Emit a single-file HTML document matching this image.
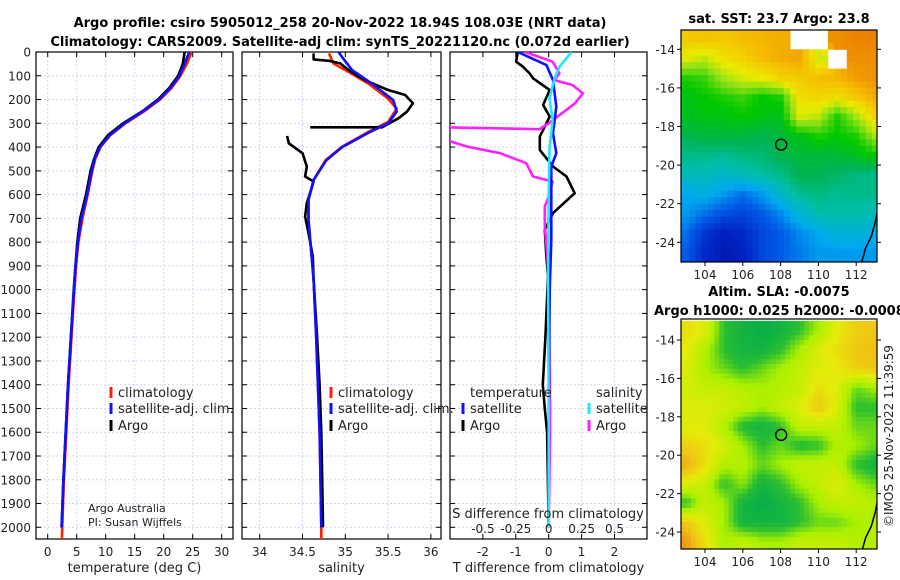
<!DOCTYPE html>
<html><head><meta charset="utf-8"><style>
html,body{margin:0;padding:0;background:#fff;}
svg{display:block;font-family:"DejaVu Sans","Liberation Sans",sans-serif;}
</style></head><body>
<svg id="fig" width="900" height="580" viewBox="0 0 900 580" xmlns="http://www.w3.org/2000/svg">
<defs>
<clipPath id="c1"><rect x="36" y="52" width="197" height="487"/></clipPath>
<clipPath id="c2"><rect x="242" y="52" width="199" height="487"/></clipPath>
<clipPath id="c3"><rect x="450" y="52" width="197" height="487"/></clipPath>
<clipPath id="cm1"><rect x="681" y="30" width="196" height="232"/></clipPath>
<clipPath id="cm2"><rect x="681" y="319" width="196" height="230"/></clipPath>
</defs>
<text x="340" y="27" text-anchor="middle" font-size="13" font-weight="bold">Argo profile: csiro 5905012_258 20-Nov-2022 18.94S 108.03E (NRT data)</text>
<text x="340" y="46" text-anchor="middle" font-size="13" font-weight="bold">Climatology: CARS2009. Satellite-adj clim: synTS_20221120.nc (0.072d earlier)</text>
<text x="779" y="23" text-anchor="middle" font-size="13" font-weight="bold">sat. SST: 23.7 Argo: 23.8</text>
<text x="779" y="296" text-anchor="middle" font-size="13" font-weight="bold">Altim. SLA: -0.0075</text>
<text x="654" y="315" font-size="13" font-weight="bold">Argo h1000: 0.025 h2000: -0.0008</text>
<text transform="translate(893,436) rotate(-90)" text-anchor="middle" font-size="12" fill="#222">©IMOS 25-Nov-2022 11:39:59</text>
<g id="layer"></g>
</svg>
<script>
// ---------- data ----------
const depthTicks = [0,100,200,300,400,500,600,700,800,900,1000,1100,1200,1300,1400,1500,1600,1700,1800,1900,2000];
const tTicks = [0,5,10,15,20,25,30];
const sTicks = [34,34.5,35,35.5,36];
const sTickLabels = ["34","34.5","35","35.5","36"];
const dTTicks = [-2,-1,0,1,2];
const dSTicks = [-0.5,-0.25,0,0.25,0.5];
const dSTickLabels = ["-0.5","-0.25","0","0.25","0.5"];

const tDepth = [0,50,100,150,200,250,300,350,400,450,500,600,700,800,900,1000,1200,1400,1600,1800,2000];
const tClimDepth = [0,50,100,150,200,250,300,350,400,450,500,600,700,800,900,1000,1200,1400,1600,1800,2000,2050];
const tClim = [24.8,24.0,22.9,21.4,19.4,16.6,13.4,10.8,9.1,8.2,7.7,6.9,6.0,5.3,4.9,4.6,4.1,3.6,3.2,2.8,2.5,2.45];
const tSat = [24.4,23.6,22.7,21.2,19.2,16.4,13.3,10.7,9.0,8.1,7.6,6.8,5.8,5.2,4.8,4.5,4.0,3.5,3.1,2.7,2.4];
const tArgo = [23.6,23.3,22.5,21.0,19.0,16.3,13.0,10.4,8.8,8.0,7.4,6.6,5.6,5.1,4.8,4.5,4.0,3.5,3.1,2.7,2.4];

const sArgoDepth = [6,31,37,48,76,104,125,160,181,216,251,279,317,317,null,353,384,426,482,524,545,580,636,692,762,860,958,1200,1400,1600,1800,2000];
const sArgo = [34.63,34.63,34.81,34.94,35.04,35.16,35.27,35.50,35.70,35.79,35.72,35.62,35.43,34.59,null,34.32,34.34,34.50,34.55,34.53,34.63,34.60,34.55,34.53,34.57,34.62,34.63,34.67,34.70,34.72,34.73,34.74];
const sClimDepth = [6,48,84,133,196,238,294,336,399,455,538,622,706,790,958,1200,1400,1600,1800,2000,2050];
const sClim = [34.81,34.86,35.04,35.27,35.50,35.60,35.50,35.27,34.96,34.77,34.63,34.57,34.57,34.59,34.63,34.66,34.68,34.70,34.71,34.72,34.72];
const sSatDepth = [0,20,76,133,202,251,300,336,399,455,538,622,706,790,958,1200,1400,1600,1800,2000];
const sSat = [34.92,34.96,35.08,35.31,35.56,35.60,35.50,35.29,34.97,34.78,34.63,34.57,34.57,34.59,34.63,34.66,34.68,34.70,34.71,34.72];

const dTArgoDepth = [0,41,62,90,111,160,223,272,314,356,412,482,524,594,678,748,860,944,1200,1400,1500,1600,2000];
const dTArgo = [-0.94,-0.99,-0.78,-0.58,-0.47,0.03,-0.17,0.03,-0.12,-0.27,-0.27,0.13,0.54,0.79,0.13,-0.12,-0.07,-0.02,-0.1,-0.18,-0.12,-0.05,0];
const dTSatDepth = [0,55,118,230,342,426,482,790,1000,1500,2000];
const dTSat = [-0.94,-0.07,0.13,0.23,0.13,0.23,0.08,0.08,0.03,0.0,0.0];
const dSSatDepth = [0,62,111,195,286,412,594,930,1500,2000];
const dSSat = [0.173,0.082,0.044,0.006,0.03,0.006,0,-0.005,0,0];
const dSArgoDepth = [0,41,90,118,139,174,216,258,300,325,317,null,367,398,426,468,524,545,608,650,734,860,944,1500,1600,2000];
const dSArgo = [-0.18,0.03,0.082,0.04,0.18,0.26,0.2,0.1,0.0,-0.07,-0.80,null,-0.80,-0.62,-0.37,-0.17,-0.12,0.03,0.0,-0.03,-0.03,-0.01,0.0,0.01,0.01,0.0];

const lonTicks = [104,106,108,110,112];
const latTicks = [-14,-16,-18,-20,-22,-24];
const gridLons = [103,104,105,106,107,108,109,110,111,112,113];
const gridLats = [-13.5,-14.5,-15.5,-16.5,-17.5,-18.5,-19.5,-20.5,-21.5,-22.5,-23.5,-24.5];
const sstGrid = [
[0.82,0.83,0.82,0.84,0.85,0.86,null,null,0.9,0.92,0.92],
[0.75,0.72,0.78,0.80,0.84,0.86,0.87,0.74,null,0.9,0.9],
[0.6,0.62,0.7,0.74,0.76,0.8,0.82,0.84,0.85,0.88,0.9],
[0.56,0.58,0.6,0.62,0.58,0.6,0.78,0.8,0.78,0.82,0.86],
[0.55,0.56,0.56,0.58,0.56,0.55,0.74,0.72,0.6,0.7,0.8],
[0.5,0.52,0.52,0.52,0.5,0.52,0.56,0.6,0.58,0.6,0.7],
[0.45,0.45,0.44,0.46,0.47,0.5,0.52,0.52,0.52,0.55,0.58],
[0.4,0.4,0.38,0.4,0.42,0.45,0.5,0.5,0.48,0.46,0.45],
[0.32,0.34,0.3,0.25,0.3,0.38,0.44,0.46,0.44,0.45,0.45],
[0.3,0.25,0.2,0.18,0.22,0.28,0.36,0.42,0.42,0.42,0.4],
[0.25,0.15,0.1,0.12,0.18,0.22,0.28,0.32,0.36,0.36,0.34],
[0.22,0.12,0.08,0.1,0.18,0.22,0.26,0.3,0.3,0.3,0.3]];
const slaGrid = [
[0.75,0.7,0.5,0.45,0.42,0.45,0.5,0.6,0.72,0.78,0.8],
[0.72,0.62,0.5,0.45,0.45,0.5,0.6,0.7,0.75,0.8,0.82],
[0.7,0.6,0.55,0.5,0.55,0.6,0.65,0.7,0.72,0.78,0.8],
[0.68,0.65,0.65,0.62,0.6,0.62,0.65,0.75,0.7,0.55,0.6],
[0.7,0.7,0.68,0.65,0.6,0.65,0.7,0.8,0.7,0.5,0.5],
[0.7,0.7,0.62,0.48,0.45,0.5,0.65,0.65,0.65,0.55,0.55],
[0.78,0.75,0.68,0.6,0.5,0.55,0.48,0.5,0.62,0.6,0.55],
[0.85,0.75,0.62,0.62,0.55,0.6,0.65,0.65,0.65,0.5,0.45],
[0.7,0.65,0.5,0.58,0.45,0.5,0.6,0.65,0.7,0.6,0.55],
[0.5,0.65,0.6,0.45,0.42,0.45,0.5,0.6,0.65,0.65,0.62],
[0.8,0.7,0.6,0.45,0.45,0.45,0.5,0.55,0.55,0.6,0.62],
[0.88,0.75,0.6,0.65,0.6,0.6,0.65,0.65,0.65,0.62,0.62]];
const floatLon = 108.03, floatLat = -18.94;
const coastLon = [113.2,113.0,112.8,112.5,112.3];
const coastLat = [-22.0,-23.0,-23.7,-24.3,-25.0];

// ---------- scales ----------
const NS = "http://www.w3.org/2000/svg";
const layer = document.getElementById('layer');
const yD = d => 52 + d * 0.23765;
const xT = v => 47.7 + v * 5.8;
const xS = v => 259.7 + (v - 34) * 85.6;
const xDT = v => 548.7 + v * 32.9;
const xDS = v => 548.7 + v * 131.6;
const mx = lon => 705 + (lon - 104) * 18.9;
const myTop = lat => 49.3 + (-14 - lat) * 19.3;
const myBot = lat => 340 + (-14 - lat) * 19.2;

function mk(tag, attrs, parent) {
  const e = document.createElementNS(NS, tag);
  for (const k in attrs) e.setAttribute(k, attrs[k]);
  (parent || layer).appendChild(e);
  return e;
}
function txt(x, y, s, size, anchor, parent) {
  const e = mk('text', {x: x, y: y, 'font-size': size, 'text-anchor': anchor || 'start', fill: '#222'}, parent);
  e.textContent = s;
  return e;
}

const panels = [
  {x0:36, x1:233, ticks:tTicks, labels:tTicks.map(String), xf:xT, title:'temperature (deg C)', name:'temperature'},
  {x0:242, x1:441, ticks:sTicks, labels:sTickLabels, xf:xS, title:'salinity', name:'salinity'},
  {x0:450, x1:647, ticks:dTTicks, labels:dTTicks.map(String), xf:xDT, title:'T difference from climatology', name:'difference'}
];
panels.forEach(p => {
  const g = mk('g', {});
  
  
  depthTicks.forEach(d => {
    const l = mk('line', {x1:p.x0, x2:p.x1, y1:yD(d), y2:yD(d), stroke:'#d4d6ee', 'stroke-width':1, 'stroke-dasharray':'2,2'}, g);
    
    
    mk('line', {x1:p.x0, x2:p.x0+5, y1:yD(d), y2:yD(d), stroke:'#000'}, g);
    mk('line', {x1:p.x1-5, x2:p.x1, y1:yD(d), y2:yD(d), stroke:'#000'}, g);
  });
  p.ticks.forEach((t, i) => {
    const x = p.xf(t);
    const l = mk('line', {x1:x, x2:x, y1:52, y2:539, stroke:'#d4d6ee', 'stroke-width':1, 'stroke-dasharray':'2,2'}, g);
    
    
    mk('line', {x1:x, x2:x, y1:539, y2:534, stroke:'#000'}, g);
    mk('line', {x1:x, x2:x, y1:52, y2:57, stroke:'#000'}, g);
    const tl = txt(x, 556, p.labels[i], 12, 'middle', g);
    
    
  });
  const fr = mk('rect', {x:p.x0, y:52, width:p.x1-p.x0, height:487, fill:'none', stroke:'#000', 'stroke-width':1.2}, g);
  
  
  const at = txt((p.x0+p.x1)/2, 572, p.title, 13, 'middle', g);
  
  
});
depthTicks.forEach(d => {
  const t = txt(31, yD(d) + 4.5, String(d), 12, 'end');
  
  
});

function line(depths, vals, xf, color, clip, name, w) {
  let segs = [], cur = [];
  for (let i = 0; i < depths.length; i++) {
    if (depths[i] === null || vals[i] === null) { if (cur.length) segs.push(cur); cur = []; continue; }
    cur.push(xf(vals[i]).toFixed(1) + ',' + yD(depths[i]).toFixed(1));
  }
  if (cur.length) segs.push(cur);
  const d = segs.map(s => 'M' + s.join('L')).join(' ');
  const e = mk('path', {d:d, fill:'none', stroke:color, 'stroke-width':w || 2.6, 'stroke-linejoin':'round', 'clip-path':'url(#' + clip + ')'});
  
  
}
line(tClimDepth, tClim, xT, '#ff2000', 'c1', 'temperature-climatology-line');
line(tDepth, tArgo, xT, '#000', 'c1', 'temperature-argo-line');
line(tDepth, tSat, xT, '#1010ff', 'c1', 'temperature-satellite-line');
line(sClimDepth, sClim, xS, '#ff2000', 'c2', 'salinity-climatology-line');
line(sArgoDepth, sArgo, xS, '#000', 'c2', 'salinity-argo-line');
line(sSatDepth, sSat, xS, '#1010ff', 'c2', 'salinity-satellite-line');
line(dTArgoDepth, dTArgo, xDT, '#000', 'c3', 't-diff-argo-line');
line(dSArgoDepth, dSArgo, xDS, '#ff20ff', 'c3', 's-diff-argo-line');
line(dTSatDepth, dTSat, xDT, '#1010ff', 'c3', 't-diff-satellite-line');
line(dSSatDepth, dSSat, xDS, '#20e8ff', 'c3', 's-diff-satellite-line');

const sdt = txt(548, 518, 'S difference from climatology', 13, 'middle');


dSTicks.forEach((t, i) => {
  const e = txt(xDS(t), 533, dSTickLabels[i], 12, 'middle');
  
  
});

function legend(x, y, color, label, name) {
  const g = mk('g', {});
  
  
  mk('line', {x1:x, x2:x, y1:y-10, y2:y+1, stroke:color, 'stroke-width':3}, g);
  txt(x + 7, y, label, 13, 'start', g);
}
legend(111, 397, '#ff2000', 'climatology', 'legend-climatology');
legend(111, 413, '#1010ff', 'satellite-adj. clim.', 'legend-satellite');
legend(111, 430, '#000', 'Argo', 'legend-argo');
legend(331, 397, '#ff2000', 'climatology', 'legend-s-climatology');
legend(331, 413, '#1010ff', 'satellite-adj. clim.', 'legend-s-satellite');
legend(331, 430, '#000', 'Argo', 'legend-s-argo');
const lt = txt(470, 397, 'temperature', 13, 'start');  
const ls = txt(596, 397, 'salinity', 13, 'start');  
legend(463, 413, '#1010ff', 'satellite', 'legend-t-satellite');
legend(463, 430, '#000', 'Argo', 'legend-t-argo');
legend(589, 413, '#20e8ff', 'satellite', 'legend-s-satellite-diff');
legend(589, 430, '#ff20ff', 'Argo', 'legend-s-argo-diff');
const a1 = txt(88, 512, 'Argo Australia', 11, 'start');  
const a2 = txt(88, 526, 'PI: Susan Wijffels', 11, 'start');  

function interp(stops, v) {
  if (v <= stops[0][0]) return 'rgb(' + stops[0][1].join(',') + ')';
  for (let i = 1; i < stops.length; i++) {
    if (v <= stops[i][0]) {
      const [a, ca] = stops[i-1], [b, cb] = stops[i], f = (v - a) / (b - a);
      return 'rgb(' + ca.map((c, k) => Math.round(c + (cb[k] - c) * f)).join(',') + ')';
    }
  }
  return 'rgb(' + stops[stops.length-1][1].join(',') + ')';
}
const sstStops = [[0,[0,0,140]],[0.12,[0,40,200]],[0.22,[0,90,230]],[0.32,[0,170,240]],[0.42,[0,190,170]],[0.5,[0,180,80]],[0.58,[0,200,0]],[0.68,[140,225,20]],[0.76,[235,235,0]],[0.84,[245,190,0]],[0.92,[235,130,0]],[1,[210,90,0]]];
const slaStops = [[0.4,[0,170,80]],[0.5,[40,190,50]],[0.6,[170,240,0]],[0.72,[230,235,10]],[0.82,[240,190,20]],[0.9,[235,140,20]]];

// sample grid bilinearly (display smoothing only)
function sample(grid, fr, fc) {
  const R = grid.length, C = grid[0].length;
  fr = Math.max(0, Math.min(R - 1, fr)); fc = Math.max(0, Math.min(C - 1, fc));
  const r0 = Math.floor(fr), c0 = Math.floor(fc);
  const r1 = Math.min(R - 1, r0 + 1), c1 = Math.min(C - 1, c0 + 1);
  const a = fr - r0, b = fc - c0;
  const vals = [[grid[r0][c0],(1-a)*(1-b)],[grid[r0][c1],(1-a)*b],[grid[r1][c0],a*(1-b)],[grid[r1][c1],a*b]];
  let s = 0, w = 0;
  for (const [v, ww] of vals) { if (v !== null) { s += v * ww; w += ww; } }
  return w > 0 ? s / w : null;
}

function map(grid, stops, myf, clip, y0, y1, name, sub) {
  const g = mk('g', {'clip-path':'url(#' + clip + ')'});
  
  
  mk('rect', {x:681, y:y0, width:196, height:y1-y0, fill:'#fff'}, g);
  const lat0 = gridLats[0], lon0 = gridLons[0];
  for (let r = 0; r < gridLats.length * sub; r++) {
    for (let c = 0; c < gridLons.length * sub; c++) {
      const lat = lat0 + 0.5 - (r + 0.5) / sub;
      const lon = lon0 - 0.5 + (c + 0.5) / sub;
      const raw = grid[Math.floor(r / sub)][Math.floor(c / sub)];
      if (raw === null) continue;
      const v = sample(grid, (lat0 - lat), (lon - lon0));
      if (v === null) continue;
      const x = mx(lon - 0.5 / sub), y = myf(lat + 0.5 / sub);
      const cell = mk('rect', {x:x.toFixed(1), y:y.toFixed(1), width:(mx(lon+0.5/sub)-x+0.5).toFixed(1), height:(myf(lat-0.5/sub)-y+0.5).toFixed(1), fill:interp(stops, v)}, g);
      
      
    }
  }
  const cd = coastLon.map((lo, i) => (i ? 'L' : 'M') + mx(lo).toFixed(1) + ',' + myf(coastLat[i]).toFixed(1)).join('');
  const co = mk('path', {d:cd, fill:'none', stroke:'#000', 'stroke-width':1.5}, g);
  
  
  const ci = mk('circle', {cx:mx(floatLon), cy:myf(floatLat), r:5.5, fill:'none', stroke:'#000', 'stroke-width':1.4});
  
  
  const fr = mk('rect', {x:681, y:y0, width:196, height:y1-y0, fill:'none', stroke:'#000', 'stroke-width':1.2});
  
  
  lonTicks.forEach(lo => {
    mk('line', {x1:mx(lo), x2:mx(lo), y1:y1, y2:y1+4, stroke:'#000'});
    const t = txt(mx(lo), y1 + 17, String(lo), 12, 'middle');
    
    
  });
  latTicks.forEach(la => {
    mk('line', {x1:677, x2:681, y1:myf(la), y2:myf(la), stroke:'#000'});
    mk('line', {x1:877, x2:881, y1:myf(la), y2:myf(la), stroke:'#000'});
    const t = txt(675, myf(la) + 4.5, String(la), 12, 'end');
    
    
  });
}
map(sstGrid, sstStops, myTop, 'cm1', 30, 262, 'sst-map', 3);
map(slaGrid, slaStops, myBot, 'cm2', 319, 549, 'sla-map', 4);
</script>
</body></html>
